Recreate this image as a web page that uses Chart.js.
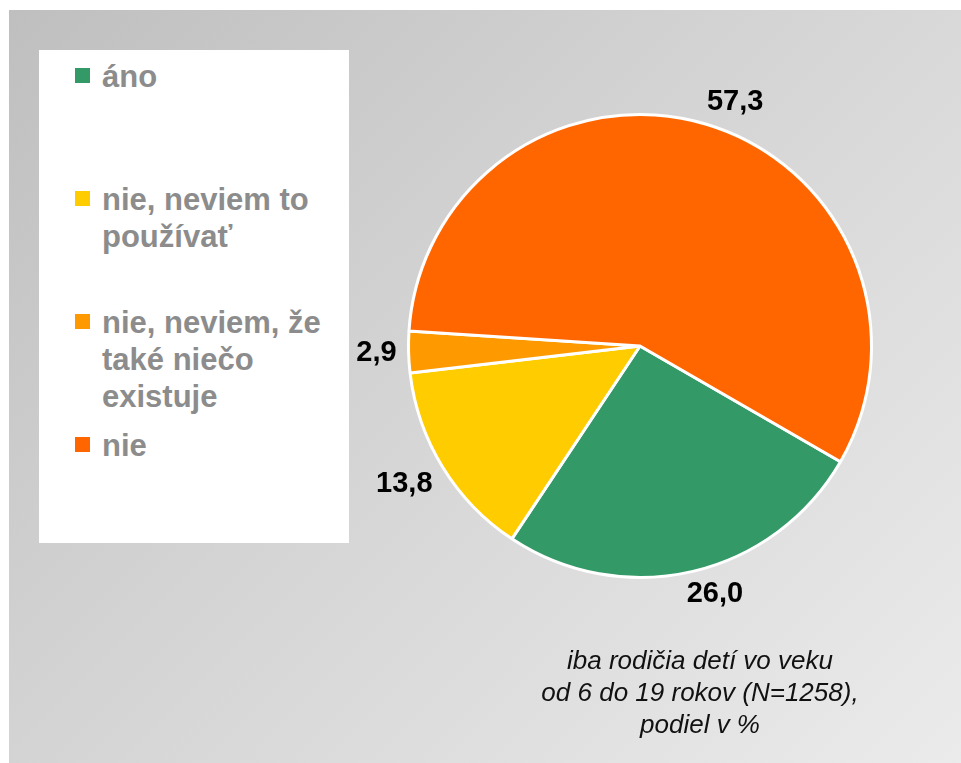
<!DOCTYPE html>
<html>
<head>
<meta charset="utf-8">
<script src="https://cdn.jsdelivr.net/npm/chart.js@4/dist/chart.umd.min.js"></script>
<style>
  body { margin: 0; background: #fff; font-family: 'Liberation Sans', Arial, sans-serif; }
  #panel {
    position: absolute; left: 9px; top: 10px; width: 952px; height: 753px;
    background: linear-gradient(135deg, #bfbfbf 0%, #d4d4d4 45%, #ebebeb 100%);
  }
  #legend {
    position: absolute; left: 30px; top: 40px; width: 310px; height: 493px; background: #fff;
  }
  .item { position: absolute; left: 0; width: 310px; }
  .item .box { position: absolute; left: 36px; top: 10px; width: 15px; height: 15px; }
  .item .txt {
    position: absolute; left: 63px; top: 0; width: 238px;
    font-weight: bold; font-size: 31px; line-height: 37px; color: #8c8c8c;
  }
  #note {
    position: absolute; left: 491px; top: 634px; width: 400px; text-align: center;
    font-style: italic; font-size: 26px; line-height: 32px; color: #111;
  }
  canvas { position: absolute; left: 0; top: 0; }
</style>
</head>
<body>
<div id="panel">
  <canvas id="chart" width="952" height="753"></canvas>
  <div id="legend"></div>
  <div id="note">iba rodičia detí vo veku<br>od 6 do 19 rokov (N=1258),<br>podiel v %</div>
</div>
<script>
// údaje
const labels = ['áno', 'nie, neviem to používať', 'nie, neviem, že také niečo existuje', 'nie']
const values = [26.0, 13.8, 2.9, 57.3]
const colors = ['#339966', '#ffcc00', '#ff9900', '#ff6600']

// legenda v bielom rámčeku
const legend = document.getElementById('legend')
labels.forEach((label, i) => {
  const item = document.createElement('div')
  item.className = 'item'
  item.style.top = (8 + i * 123) + 'px'
  item.innerHTML = `<div class="box" style="background:${colors[i]}"></div><div class="txt">${label}</div>`
  legend.appendChild(item)
})

const clamp = v => Math.max(-1, Math.min(1, v))

// popisky hodnôt mimo koláča
const outsideLabels = {
  id: 'outsideLabels',
  afterDatasetsDraw (chart) {
    const ctx = chart.ctx
    const meta = chart.getDatasetMeta(0)
    ctx.save()
    ctx.font = 'bold 29px "Liberation Sans", Arial, sans-serif'
    ctx.fillStyle = '#000'
    ctx.textAlign = 'center'
    ctx.textBaseline = 'middle'
    meta.data.forEach((arc, i) => {
      const text = values[i].toFixed(1).replace('.', ',')
      const hw = ctx.measureText(text).width / 2
      const hh = 10.5
      const mid = (arc.startAngle + arc.endAngle) / 2
      const cos = Math.cos(mid)
      const sin = Math.sin(mid)
      const r = arc.outerRadius + 12
      const x = arc.x + cos * r + hw * clamp(3 * cos)
      const y = arc.y + sin * r + hh * clamp(3 * sin)
      ctx.fillText(text, x, y)
    })
    ctx.restore()
  }
}

new Chart(document.getElementById('chart'), {
  type: 'pie',
  data: {
    labels,
    datasets: [{
      data: values,
      backgroundColor: colors,
      borderColor: '#fff',
      borderWidth: 3,
      hoverOffset: 0
    }]
  },
  options: {
    responsive: false,
    animation: false,
    rotation: 120,
    layout: { padding: { left: 398, top: 103, right: 88, bottom: 184 } },
    plugins: {
      legend: { display: false },
      tooltip: { enabled: false }
    }
  },
  plugins: [outsideLabels]
})
</script>
</body>
</html>
